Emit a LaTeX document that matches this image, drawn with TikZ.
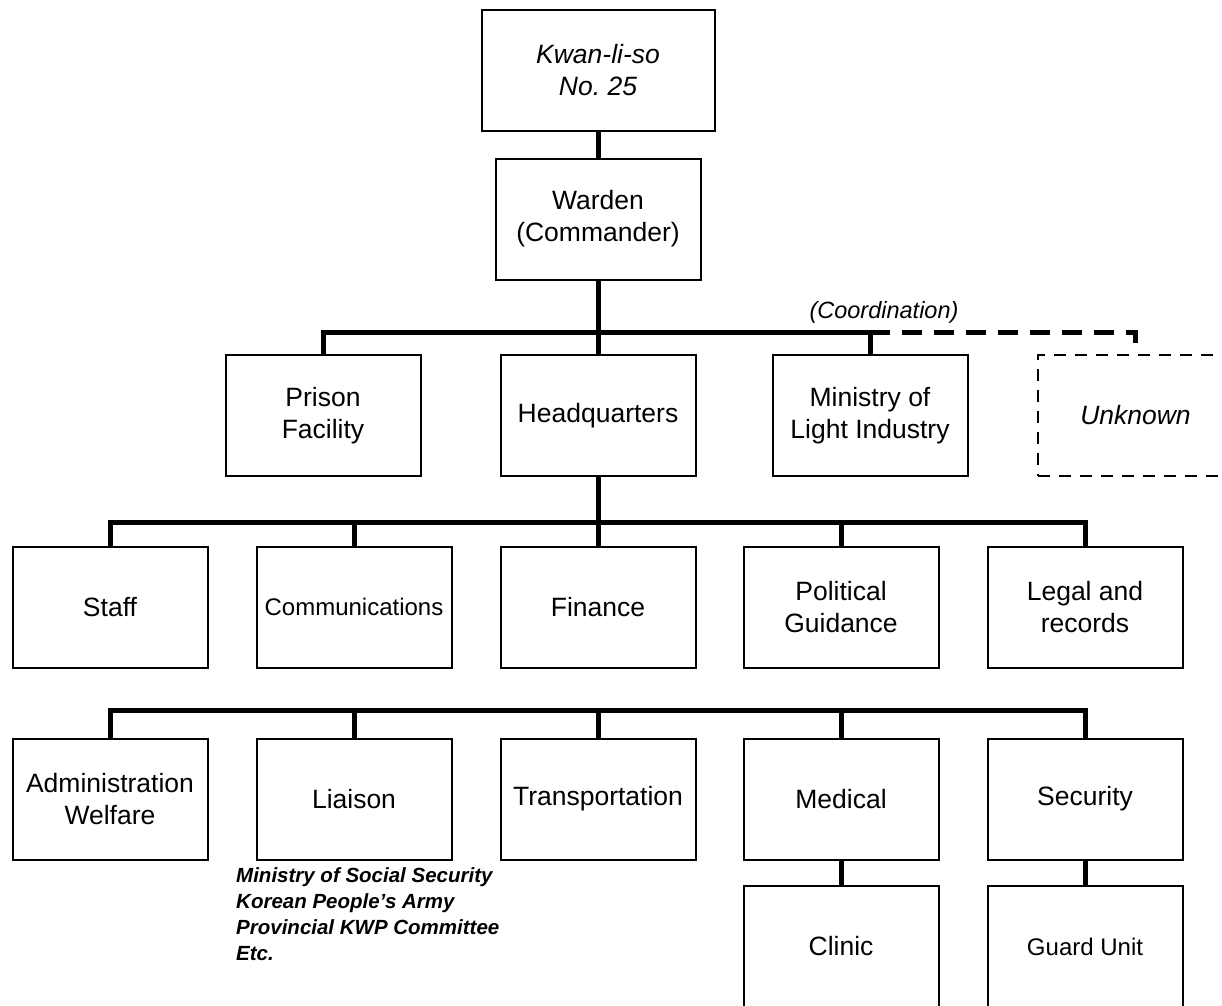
\documentclass[tikz,border=0pt]{standalone}
\usepackage{fontspec}
\setmainfont{Liberation Sans}

\tikzset{
  unit/.style={draw, line width=2pt, minimum width=195pt, minimum height=121pt,
    inner sep=0pt, align=center, font=\fontsize{26.5}{32}\selectfont},
  tie/.style={line width=5pt},
}

\begin{document}
\begin{tikzpicture}[x=1pt,y=-1pt]
    \useasboundingbox (0,0) rectangle (1222,1005);
    \node[unit, minimum width=233pt, font=\fontsize{26.5}{32}\selectfont\itshape] (camp) at (598,70.5) {Kwan-li-so\\No.\ 25};
    \node[unit, minimum width=205pt] (warden) at (598,219) {Warden\\(Commander)};
    \node[unit] (prison) at (323,415.5) {Prison\\Facility};
    \node[unit] (hq) at (598,415.5) {Headquarters};
    \node[unit] (mli) at (870,415.5) {Ministry of\\Light Industry};
    \node[unit, line width=1.8pt, dash pattern=on 12pt off 9pt, font=\fontsize{26.5}{32}\selectfont\itshape] (unknown) at (1135.5,415.5) {Unknown};
    \node[font=\fontsize{23.5}{28}\selectfont\itshape] (coord) at (884,312) {(Coordination)};
    \node[unit] (staff) at (110,607) {Staff};
    \node[unit, font=\fontsize{24}{29}\selectfont] (comm) at (354,607) {Communications};
    \node[unit] (fin) at (598,607) {Finance};
    \node[unit] (pol) at (841,607) {Political\\Guidance};
    \node[unit] (legal) at (1085,607) {Legal and\\records};
    \node[unit] (admin) at (110,799) {Administration\\Welfare};
    \node[unit] (liaison) at (354,799) {Liaison};
    \node[unit] (trans) at (598,799) {Transportation};
    \node[unit] (med) at (841,799) {Medical};
    \node[unit] (sec) at (1085,799) {Security};
    \node[unit] (clinic) at (841,946.5) {Clinic};
    \node[unit, font=\fontsize{24}{29}\selectfont] (guard) at (1085,946.5) {Guard Unit};
    \node[anchor=north west, align=left, inner sep=0pt, font=\fontsize{20.5}{26}\selectfont\bfseries\itshape] (contacts) at (236,867) {Ministry of Social Security\\Korean People’s Army\\Provincial KWP Committee\\Etc.};
    \coordinate (b2) at (598,332);
    \coordinate (b3) at (598,522);
    \coordinate (b4) at (598,710);
    \draw[tie] (camp) -- (warden);
    \draw[tie] (warden) -- (hq);
    \draw[tie] (prison.north) |- (mli.north |- b2) -- (mli.north);
    \draw[tie, dash pattern=on 20pt off 12pt] (mli.north |- b2) -| (unknown.north);
    \draw[tie] (hq) -- (fin);
    \draw[tie] (staff.north) |- (legal.north |- b3) -- (legal.north);
    \draw[tie] (comm.north) -- (comm.north |- b3);
    \draw[tie] (pol.north) -- (pol.north |- b3);
    \draw[tie] (admin.north) |- (sec.north |- b4) -- (sec.north);
    \draw[tie] (liaison.north) -- (liaison.north |- b4);
    \draw[tie] (trans.north) -- (trans.north |- b4);
    \draw[tie] (med.north) -- (med.north |- b4);
    \draw[tie] (med) -- (clinic);
    \draw[tie] (sec) -- (guard);
\end{tikzpicture}
\end{document}
